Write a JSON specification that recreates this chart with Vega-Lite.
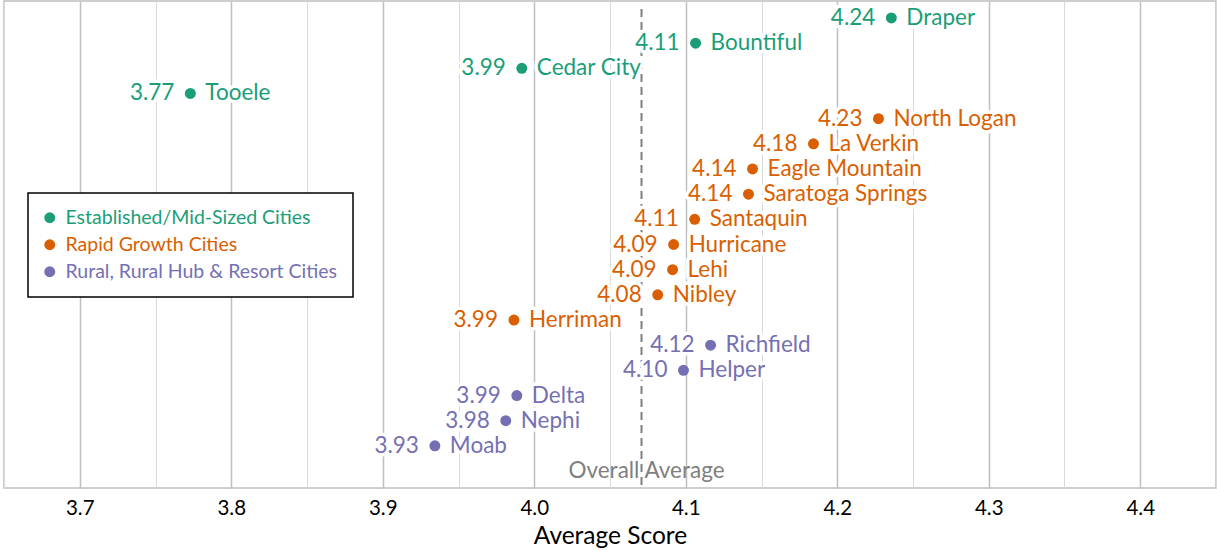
{
  "$schema": "https://vega.github.io/schema/vega-lite/v6.json",
  "width": 1212,
  "height": 487,
  "padding": {"left": 4, "top": 1, "right": 1, "bottom": 62},
  "autosize": {"type": "none"},
  "background": "white",
  "config": {
    "font": "Lato",
    "view": {"stroke": "#bfbfbf", "strokeWidth": 1.5}
  },
  "datasets": {
    "cities": [
      {"city": "Draper", "score": 4.2357, "group": "Established/Mid-Sized Cities"},
      {"city": "Bountiful", "score": 4.1065, "group": "Established/Mid-Sized Cities"},
      {"city": "Cedar City", "score": 3.9918, "group": "Established/Mid-Sized Cities"},
      {"city": "Tooele", "score": 3.7730, "group": "Established/Mid-Sized Cities"},
      {"city": "North Logan", "score": 4.2272, "group": "Rapid Growth Cities"},
      {"city": "La Verkin", "score": 4.1843, "group": "Rapid Growth Cities"},
      {"city": "Eagle Mountain", "score": 4.1441, "group": "Rapid Growth Cities"},
      {"city": "Saratoga Springs", "score": 4.1414, "group": "Rapid Growth Cities"},
      {"city": "Santaquin", "score": 4.1059, "group": "Rapid Growth Cities"},
      {"city": "Hurricane", "score": 4.0920, "group": "Rapid Growth Cities"},
      {"city": "Lehi", "score": 4.0913, "group": "Rapid Growth Cities"},
      {"city": "Nibley", "score": 4.0815, "group": "Rapid Growth Cities"},
      {"city": "Herriman", "score": 3.9866, "group": "Rapid Growth Cities"},
      {"city": "Richfield", "score": 4.1164, "group": "Rural, Rural Hub & Resort Cities"},
      {"city": "Helper", "score": 4.0985, "group": "Rural, Rural Hub & Resort Cities"},
      {"city": "Delta", "score": 3.9885, "group": "Rural, Rural Hub & Resort Cities"},
      {"city": "Nephi", "score": 3.9812, "group": "Rural, Rural Hub & Resort Cities"},
      {"city": "Moab", "score": 3.9344, "group": "Rural, Rural Hub & Resort Cities"}
    ],
    "average": [
      {"city": "Overall Average", "score": 4.0708, "label": "Overall Average"}
    ]
  },
  "encoding": {
    "x": {
      "field": "score",
      "type": "quantitative",
      "scale": {"domain": [3.65, 4.45], "nice": false, "zero": false},
      "axis": {
        "title": "Average Score",
        "titleFontSize": 24.5,
        "titleFontWeight": "normal",
        "titleColor": "#000000",
        "titlePadding": 6,
        "values": [3.65, 3.7, 3.75, 3.8, 3.85, 3.9, 3.95, 4.0, 4.05, 4.1, 4.15, 4.2, 4.25, 4.3, 4.35, 4.4, 4.45],
        "labelExpr": "abs(datum.value*10 - round(datum.value*10)) < 0.01 ? format(datum.value, '.1f') : ''",
        "labelFontSize": 20.5,
        "labelColor": "#000000",
        "labelPadding": 10,
        "ticks": false,
        "domain": false,
        "grid": true,
        "gridColor": {"condition": {"test": "abs(datum.value*10 - round(datum.value*10)) < 0.01", "value": "#bfbfbf"}, "value": "#d9d9d9"},
        "gridWidth": {"condition": {"test": "abs(datum.value*10 - round(datum.value*10)) < 0.01", "value": 1.5}, "value": 1}
      }
    },
    "y": {
      "field": "city",
      "type": "nominal",
      "scale": {
        "type": "point",
        "padding": 0.675,
        "domain": ["Draper", "Bountiful", "Cedar City", "Tooele", "North Logan", "La Verkin", "Eagle Mountain", "Saratoga Springs", "Santaquin", "Hurricane", "Lehi", "Nibley", "Herriman", "Richfield", "Helper", "Delta", "Nephi", "Moab", "Overall Average"]
      },
      "axis": null
    },
    "color": {
      "field": "group",
      "type": "nominal",
      "scale": {
        "domain": ["Established/Mid-Sized Cities", "Rapid Growth Cities", "Rural, Rural Hub & Resort Cities"],
        "range": ["#1b9e77", "#d95f02", "#7570b3"]
      },
      "legend": {
        "title": null,
        "orient": "none",
        "legendX": 24,
        "legendY": 192,
        "fillColor": "white",
        "strokeColor": "#000000",
        "padding": 15,
        "symbolType": "circle",
        "symbolSize": 120,
        "symbolStrokeWidth": 0,
        "symbolOpacity": 1,
        "symbolOffset": -3,
        "labelFontSize": 19.5,
        "labelOffset": 6,
        "rowPadding": 6,
        "labelLimit": 400,
        "encode": {
          "labels": {"update": {"fill": {"scale": "color", "field": "value"}}},
          "legend": {"update": {"strokeWidth": {"value": 1.5}}}
        }
      }
    }
  },
  "layer": [
    {
      "data": {"name": "average"},
      "mark": {"type": "rule", "color": "#7f7f7f", "strokeWidth": 2, "strokeDash": [8, 5], "y": 8, "y2": 487},
      "encoding": {"y": null, "color": null}
    },
    {
      "data": {"name": "average"},
      "mark": {"type": "text", "align": "center", "baseline": "middle", "dx": 5, "fontSize": 22.5, "color": "#7f7f7f"},
      "encoding": {"text": {"field": "label"}, "color": null}
    },
    {
      "data": {"name": "cities"},
      "mark": {"type": "text", "align": "right", "baseline": "middle", "dx": -16, "fontSize": 22.5, "stroke": "white", "strokeWidth": 7, "strokeJoin": "round", "fill": "white"},
      "encoding": {"text": {"field": "score", "type": "quantitative", "format": ".2f"}, "color": null}
    },
    {
      "data": {"name": "cities"},
      "mark": {"type": "text", "align": "left", "baseline": "middle", "dx": 15, "fontSize": 22.5, "stroke": "white", "strokeWidth": 7, "strokeJoin": "round", "fill": "white"},
      "encoding": {"text": {"field": "city"}, "color": null}
    },
    {
      "data": {"name": "cities"},
      "mark": {"type": "text", "align": "right", "baseline": "middle", "dx": -16, "fontSize": 22.5},
      "encoding": {"text": {"field": "score", "type": "quantitative", "format": ".2f"}}
    },
    {
      "data": {"name": "cities"},
      "mark": {"type": "text", "align": "left", "baseline": "middle", "dx": 15, "fontSize": 22.5},
      "encoding": {"text": {"field": "city"}}
    },
    {
      "data": {"name": "cities"},
      "mark": {"type": "circle", "size": 120, "opacity": 1}
    }
  ]
}
